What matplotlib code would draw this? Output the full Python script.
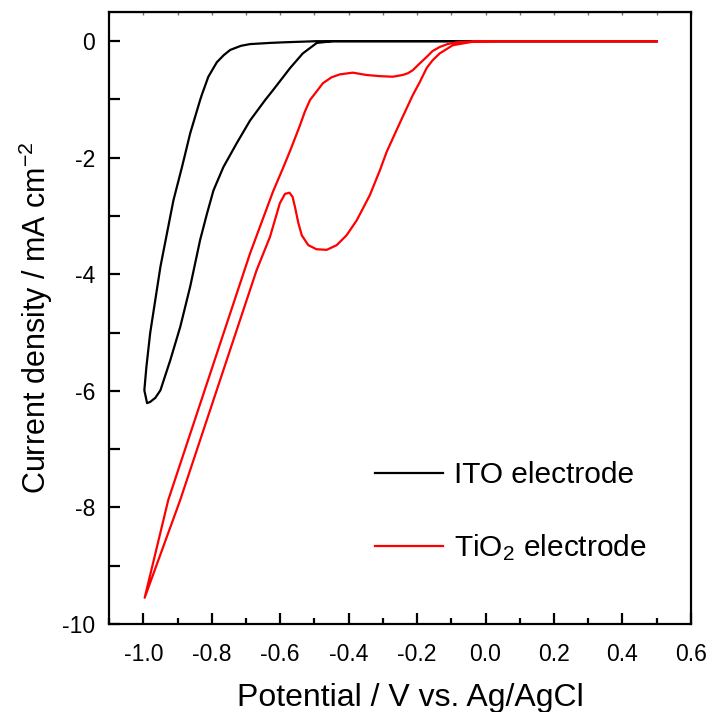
import matplotlib
matplotlib.use("Agg")
import matplotlib.pyplot as plt
from matplotlib.ticker import MultipleLocator

plt.rcParams['font.family'] = ['Liberation Sans', 'DejaVu Sans']
plt.rcParams['mathtext.fontset'] = 'custom'
plt.rcParams['mathtext.rm'] = 'Liberation Sans'
plt.rcParams['mathtext.it'] = 'Liberation Sans:italic'

# cyclic voltammograms, scan 0.5 V -> -1.0 V -> 0.5 V
ito_potential = [0.5, -0.251, -0.493, -0.592, -0.630, -0.688, -0.715, -0.746,
                 -0.765, -0.785, -0.810, -0.829, -0.834, -0.863, -0.887, -0.912,
                 -0.931, -0.950, -0.965, -0.980, -0.991, -0.997, -0.989,
                 -0.980, -0.965, -0.950, -0.921, -0.892, -0.863, -0.834, -0.814,
                 -0.795, -0.766, -0.727, -0.688, -0.644, -0.621, -0.571, -0.534,
                 -0.493, -0.446, 0.5]
ito_current = [0.0, 0.0, 0.0, -0.02, -0.03, -0.05, -0.08, -0.15,
               -0.24, -0.36, -0.61, -0.92, -1.01, -1.58, -2.16, -2.73,
               -3.30, -3.87, -4.44, -5.01, -5.59, -5.99, -6.21,
               -6.19, -6.12, -5.99, -5.47, -4.90, -4.21, -3.41, -2.96,
               -2.56, -2.16, -1.75, -1.36, -1.01, -0.84, -0.46, -0.21,
               -0.03, 0.0, 0.0]

tio2_potential = [0.5, 0.041, -0.026, -0.085, -0.111, -0.134, -0.155, -0.172,
                  -0.192, -0.213, -0.227, -0.242, -0.271, -0.309, -0.348, -0.388,
                  -0.426, -0.450, -0.475, -0.513, -0.528, -0.542, -0.571, -0.592,
                  -0.621, -0.688, -0.927, -0.996,
                  -0.892, -0.669, -0.630, -0.601, -0.586, -0.573, -0.564, -0.557,
                  -0.547, -0.537, -0.518, -0.494, -0.464, -0.435, -0.406, -0.376,
                  -0.338, -0.309, -0.289, -0.251, -0.213, -0.192, -0.172, -0.155,
                  -0.134, -0.096, -0.038, 0.041, 0.5]
tio2_current = [0.0, 0.0, 0.0, -0.02, -0.05, -0.10, -0.17, -0.27,
                -0.38, -0.50, -0.55, -0.58, -0.61, -0.60, -0.58, -0.54,
                -0.57, -0.62, -0.72, -1.01, -1.21, -1.44, -1.88, -2.18,
                -2.58, -3.64, -7.87, -9.55,
                -7.87, -3.93, -3.36, -2.78, -2.62, -2.60, -2.67, -2.84,
                -3.12, -3.33, -3.50, -3.57, -3.58, -3.50, -3.33, -3.07,
                -2.64, -2.22, -1.90, -1.41, -0.93, -0.70, -0.46, -0.33,
                -0.21, -0.07, -0.01, 0.0, 0.0]

fig = plt.figure(figsize=(7.13, 7.12), dpi=100)
ax = fig.add_axes([0.153, 0.1236, 0.816, 0.9831 - 0.1236])

ax.plot(ito_potential, ito_current, color='black', lw=1.6, label='ITO electrode')
ax.plot(tio2_potential, tio2_current, color='red', lw=1.6, label='TiO$_2$ electrode')

ax.set_xlim(-1.1, 0.6)
ax.set_ylim(-10, 0.5)
ax.xaxis.set_major_locator(MultipleLocator(0.2))
ax.xaxis.set_minor_locator(MultipleLocator(0.1))
ax.yaxis.set_major_locator(MultipleLocator(2))
ax.yaxis.set_minor_locator(MultipleLocator(1))
ax.xaxis.set_major_formatter(lambda v, p: f"{v:.1f}")
ax.yaxis.set_major_formatter(lambda v, p: f"{v:.0f}")

for s in ax.spines.values():
    s.set_linewidth(1.6)
ax.tick_params(axis='both', which='both', direction='in', width=1.6,
               labelsize=16.5, right=False, top=False)
ax.tick_params(axis='x', which='major', length=8, pad=14)
ax.tick_params(axis='x', which='minor', length=4.5)
ax.tick_params(axis='y', which='both', length=8, pad=10)

top = ax.secondary_xaxis('top')
top.xaxis.set_major_locator(MultipleLocator(0.1))
top.tick_params(direction='in', length=2.5, width=1, color='0.45', labeltop=False)

ax.set_xlabel('Potential / V vs. Ag/AgCl', fontsize=23, labelpad=12)
ax.xaxis.label.set_x(0.517)
ax.set_ylabel('Current density / mA cm$^{\\mathrm{-2}}$', fontsize=22, labelpad=5)

ax.legend(loc='upper left', bbox_to_anchor=(0.41, 0.31), frameon=False,
          fontsize=21.5, handlelength=2.3, handletextpad=0.35, labelspacing=1.45)

fig.savefig('out.png', dpi=100)
